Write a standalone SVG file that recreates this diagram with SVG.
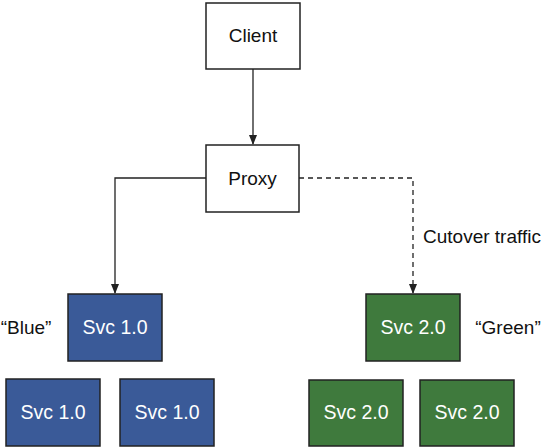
<svg xmlns="http://www.w3.org/2000/svg" width="544" height="447" viewBox="0 0 544 447">
<style>
.w{fill:#fff;stroke:#222;stroke-width:1.5}
.b{fill:#3a5a98;stroke:#222;stroke-width:1.5}
.g{fill:#3f7a3d;stroke:#222;stroke-width:1.5}
text{font-family:"Liberation Sans",Arial,sans-serif;font-size:19px;text-anchor:middle}
.lt{fill:#fff;font-size:19.5px}
.dk{fill:#111}
.line{fill:none;stroke:#222;stroke-width:1.3}
</style>
<defs>
<marker id="ah" markerWidth="10" markerHeight="14" refX="9" refY="7" orient="auto" markerUnits="userSpaceOnUse">
<path d="M0,3 L10,7 L0,11 Z" fill="#222"/>
</marker>
</defs>
<g id="connectors">
<path class="line" d="M253,69 V144" marker-end="url(#ah)"/>
<path class="line" d="M206,178 H115 V293" marker-end="url(#ah)"/>
<path class="line" d="M299,178 H413 V293" stroke-dasharray="5,4" marker-end="url(#ah)"/>
</g>
<g id="client"><rect class="w" x="206" y="3" width="94" height="66"/><text class="dk" x="253" y="42">Client</text></g>
<g id="proxy"><rect class="w" x="206" y="145" width="93" height="67"/><text class="dk" x="252.5" y="185">Proxy</text></g>
<g id="blue-main"><rect class="b" x="68" y="294" width="94" height="67"/><text class="lt" x="115" y="334">Svc 1.0</text></g>
<g id="blue-1"><rect class="b" x="6" y="379" width="94" height="67"/><text class="lt" x="53" y="419">Svc 1.0</text></g>
<g id="blue-2"><rect class="b" x="120" y="379" width="94" height="67"/><text class="lt" x="167" y="419">Svc 1.0</text></g>
<g id="green-main"><rect class="g" x="366" y="294" width="94" height="67"/><text class="lt" x="413" y="334">Svc 2.0</text></g>
<g id="green-1"><rect class="g" x="309" y="380" width="94" height="66"/><text class="lt" x="356" y="419">Svc 2.0</text></g>
<g id="green-2"><rect class="g" x="420" y="380" width="94" height="66"/><text class="lt" x="467" y="419">Svc 2.0</text></g>
<g id="labels">
<text class="dk" x="26" y="334">“Blue”</text>
<text class="dk" x="508" y="334">“Green”</text>
<text class="dk" x="482" y="243">Cutover traffic</text>
</g>
</svg>
